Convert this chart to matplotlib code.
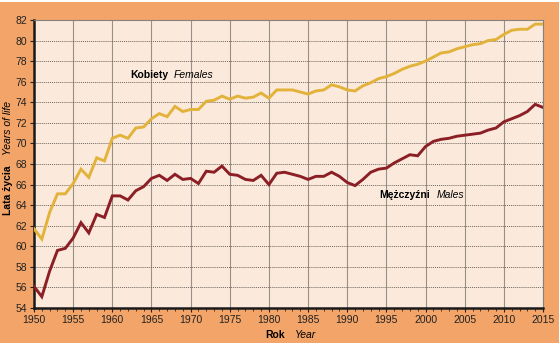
import matplotlib
matplotlib.use("Agg")
import matplotlib.pyplot as plt
from matplotlib.ticker import MultipleLocator
import matplotlib.patches as mpatches

plt.rcParams['font.family'] = ['Liberation Sans', 'DejaVu Sans']

years = list(range(1950, 2016))

females = [61.7, 60.7, 63.3, 65.1, 65.1, 66.1, 67.5, 66.7, 68.6, 68.3,
           70.5, 70.8, 70.5, 71.5, 71.6, 72.4, 72.9, 72.6, 73.6, 73.1,
           73.3, 73.3, 74.1, 74.2, 74.6, 74.3, 74.6, 74.4, 74.5, 74.9,
           74.4, 75.2, 75.2, 75.2, 75.0, 74.8, 75.1, 75.2, 75.7, 75.5,
           75.2, 75.1, 75.6, 75.9, 76.3, 76.5, 76.8, 77.2, 77.5, 77.7,
           78.0, 78.4, 78.8, 78.9, 79.2, 79.4, 79.6, 79.7, 80.0, 80.1,
           80.6, 81.0, 81.1, 81.1, 81.6, 81.6]

males = [56.1, 55.1, 57.6, 59.6, 59.8, 60.8, 62.3, 61.3, 63.1, 62.8,
         64.9, 64.9, 64.5, 65.4, 65.8, 66.6, 66.9, 66.4, 67.0, 66.5,
         66.6, 66.1, 67.3, 67.2, 67.8, 67.0, 66.9, 66.5, 66.4, 66.9,
         66.0, 67.1, 67.2, 67.0, 66.8, 66.5, 66.8, 66.8, 67.2, 66.8,
         66.2, 65.9, 66.5, 67.2, 67.5, 67.6, 68.1, 68.5, 68.9, 68.8,
         69.7, 70.2, 70.4, 70.5, 70.7, 70.8, 70.9, 71.0, 71.3, 71.5,
         72.1, 72.4, 72.7, 73.1, 73.8, 73.5]

x_ticks = list(range(1950, 2016, 5))
y_ticks = list(range(54, 83, 2))

FIG_BG = '#F3A468'
AX_BG = '#FBEADC'
C_FEM = '#E2B23A'
C_MAL = '#8C1F25'
FS = 7.5

fig = plt.figure(figsize=(5.59, 3.47), dpi=100, facecolor=FIG_BG)
# thin white strips along top and bottom edges
fig.patches.append(mpatches.Rectangle((0, 0), 1, 4 / 347, transform=fig.transFigure,
                                      facecolor='white', edgecolor='none', zorder=-1))
fig.patches.append(mpatches.Rectangle((0, 1 - 2 / 347), 1, 2 / 347, transform=fig.transFigure,
                                      facecolor='white', edgecolor='none', zorder=-1))

ax = fig.add_axes([34 / 559, 1 - 308 / 347, (543 - 34) / 559, (308 - 20) / 347])
ax.set_facecolor(AX_BG)

ax.plot(years, females, color=C_FEM, lw=2.1, zorder=3, solid_joinstyle='miter')
ax.plot(years, males, color=C_MAL, lw=2.1, zorder=3, solid_joinstyle='miter')

ax.set_xlim(1950, 2015)
ax.set_ylim(54, 82)
ax.set_xticks(x_ticks)
ax.set_yticks(y_ticks)
ax.xaxis.set_minor_locator(MultipleLocator(1))

ax.grid(axis='y', which='major', color='#6e6660', linestyle=(0, (1, 1)), lw=0.7)
ax.grid(axis='x', which='major', color='#9a8f88', linestyle='-', lw=0.8)
ax.set_axisbelow(True)

for side in ('top', 'right'):
    ax.spines[side].set_color('#8a807a')
    ax.spines[side].set_linewidth(0.8)
for side in ('left', 'bottom'):
    ax.spines[side].set_color('#1a1a1a')
    ax.spines[side].set_linewidth(1.8)

ax.tick_params(axis='both', which='major', labelsize=FS, colors='#222222',
               length=3, width=0.8, pad=2)
ax.tick_params(axis='x', which='minor', length=2.5, width=0.6, colors='#222222')

ax.text(1962.3, 76.65, 'Kobiety', fontsize=FS, fontweight='bold', ha='left', va='center')
ax.text(1967.9, 76.65, 'Females', fontsize=FS, fontstyle='italic', ha='left', va='center')
ax.text(1994.1, 64.95, 'Mężczyźni', fontsize=FS, fontweight='bold', ha='left', va='center')
ax.text(2001.4, 64.95, 'Males', fontsize=FS, fontstyle='italic', ha='left', va='center')

fig.text(8 / 559, 1 - 190 / 347, 'Lata życia', rotation=90, fontsize=FS,
         fontweight='bold', ha='center', va='center')
fig.text(8 / 559, 1 - 128 / 347, 'Years of life', rotation=90, fontsize=FS,
         fontstyle='italic', ha='center', va='center')
fig.text(275 / 559, 1 - 335 / 347, 'Rok', fontsize=FS, fontweight='bold',
         ha='center', va='center')
fig.text(306 / 559, 1 - 335 / 347, 'Year', fontsize=FS, fontstyle='italic',
         ha='center', va='center')

fig.savefig('out.png', dpi=100, facecolor=FIG_BG)
